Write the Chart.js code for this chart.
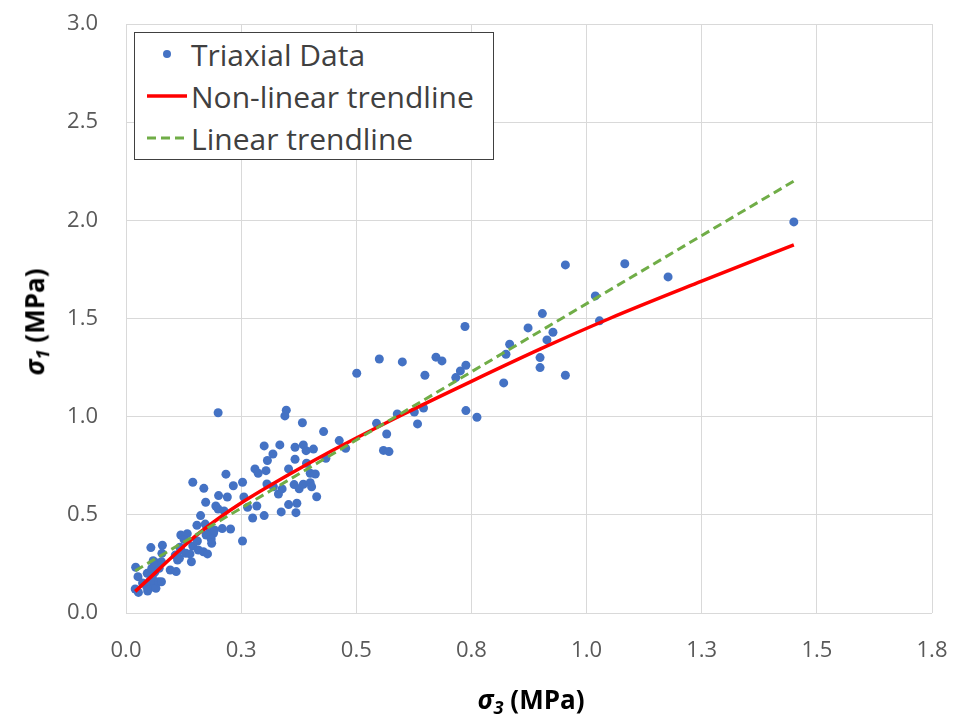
<!DOCTYPE html>
<html>
<head>
<meta charset="utf-8">
<script src="https://cdn.jsdelivr.net/npm/chart.js@4.4.1/dist/chart.umd.min.js"></script>
<style>
    body { margin: 0; background: #fff; }
    #wrap { position: relative; width: 953px; height: 720px; font-family: "Open Sans", sans-serif; }
    #chart { position: absolute; left: 0; top: 0; }
    .axis-title { position: absolute; font-weight: bold; font-size: 26px; color: #000; white-space: nowrap; }
    .axis-title i { font-style: italic; }
    .axis-title sub { font-size: 0.7em; font-style: italic; vertical-align: -0.25em; }
    #x-title { left: 531px; top: 700px; transform: translate(-50%, -50%); }
    #y-title { left: 35px; top: 322px; transform: translate(-50%, -50%) rotate(-90deg); }
    #legend { position: absolute; left: 134px; top: 32px; width: 360px; height: 128px; box-sizing: border-box;
              border: 1.5px solid #404040; background: #fff; }
    .leg-item { display: flex; align-items: center; height: 42px; font-size: 30px; color: #404040; }
    .leg-item svg { margin-left: 10px; margin-right: 2px; flex: none; }
</style>
</head>
<body>
<div id="wrap">
    <canvas id="chart" width="953" height="720"></canvas>
    <div id="legend"></div>
    <div class="axis-title" id="x-title"><i>σ</i><sub>3</sub> (MPa)</div>
    <div class="axis-title" id="y-title"><i>σ</i><sub>1</sub> (MPa)</div>
</div>
<script>
// Triaxial test results (MPa)
const sigma3 = [
    0.020, 0.027, 0.021, 0.026, 0.036, 0.045, 0.047, 0.046, 0.054, 0.052,
    0.059, 0.063, 0.056, 0.061, 0.065, 0.059, 0.071, 0.077, 0.072, 0.059,
    0.065, 0.077, 0.054, 0.079, 0.078, 0.096, 0.109, 0.107, 0.112, 0.119,
    0.117, 0.116, 0.130, 0.119, 0.133, 0.126, 0.142, 0.145, 0.139, 0.155,
    0.157, 0.168, 0.177, 0.145, 0.169, 0.162, 0.154, 0.172, 0.173, 0.182,
    0.190, 0.174, 0.185, 0.186, 0.192, 0.200, 0.195, 0.201, 0.200, 0.213,
    0.209, 0.227, 0.217, 0.220, 0.233, 0.253, 0.256, 0.253, 0.264, 0.275,
    0.284, 0.280, 0.287, 0.300, 0.304, 0.300, 0.307, 0.306, 0.320, 0.319,
    0.331, 0.339, 0.337, 0.334, 0.348, 0.345, 0.353, 0.353, 0.367, 0.367,
    0.365, 0.371, 0.369, 0.376, 0.385, 0.391, 0.407, 0.385, 0.400, 0.403,
    0.414, 0.392, 0.400, 0.411, 0.383, 0.429, 0.463, 0.477, 0.434, 0.501,
    0.550, 0.600, 0.649, 0.673, 0.686, 0.716, 0.726, 0.738, 0.736, 0.544,
    0.566, 0.559, 0.571, 0.589, 0.626, 0.646, 0.633, 0.738, 0.762, 0.820,
    0.825, 0.833, 0.873, 0.899, 0.899, 0.904, 0.914, 0.927, 0.954, 1.028,
    1.019, 0.954, 1.083, 1.177, 1.450
];
const sigma1 = [
    0.122, 0.105, 0.233, 0.185, 0.153, 0.134, 0.112, 0.202, 0.151, 0.163,
    0.199, 0.210, 0.228, 0.131, 0.126, 0.168, 0.159, 0.159, 0.228, 0.266,
    0.256, 0.261, 0.333, 0.345, 0.304, 0.219, 0.211, 0.295, 0.270, 0.321,
    0.335, 0.279, 0.304, 0.397, 0.404, 0.375, 0.261, 0.341, 0.301, 0.367,
    0.321, 0.312, 0.301, 0.666, 0.635, 0.496, 0.447, 0.453, 0.564, 0.426,
    0.406, 0.397, 0.377, 0.355, 0.423, 1.020, 0.545, 0.598, 0.530, 0.520,
    0.430, 0.428, 0.707, 0.591, 0.648, 0.666, 0.591, 0.367, 0.538, 0.484,
    0.545, 0.734, 0.712, 0.496, 0.725, 0.851, 0.777, 0.657, 0.643, 0.810,
    0.606, 0.632, 0.515, 0.856, 1.033, 1.004, 0.734, 0.552, 0.844, 0.783,
    0.654, 0.559, 0.511, 0.633, 0.856, 0.827, 0.835, 0.656, 0.664, 0.643,
    0.592, 0.763, 0.712, 0.708, 0.969, 0.924, 0.878, 0.839, 0.788, 1.221,
    1.294, 1.279, 1.211, 1.303, 1.284, 1.199, 1.233, 1.262, 1.459, 0.966,
    0.912, 0.828, 0.822, 1.014, 1.024, 1.044, 0.963, 1.031, 0.997, 1.172,
    1.318, 1.369, 1.452, 1.301, 1.250, 1.525, 1.391, 1.430, 1.211, 1.488,
    1.615, 1.773, 1.779, 1.712, 1.992
];

// Trendlines
const nonLinearX = [0.02, 0.05, 0.10, 0.15, 0.20, 0.25, 0.35, 0.45, 0.60, 0.75, 0.90, 1.05, 1.25, 1.45];
const nonLinearY = [0.11, 0.175, 0.285, 0.39, 0.48, 0.56, 0.70, 0.83, 1.01, 1.18, 1.345, 1.50, 1.69, 1.875];
const linearX = [0.02, 1.45];
const linearY = [0.215, 2.20];

const xTickLabels = ['0.0', '0.3', '0.5', '0.8', '1.0', '1.3', '1.5', '1.8'];
const yTickLabels = ['0.0', '0.5', '1.0', '1.5', '2.0', '2.5', '3.0'];

const toPoints = (xs, ys) => xs.map((x, i) => ({ x: x, y: ys[i] }));

const tickFont = { family: '"Open Sans", sans-serif', size: 22 };
const gridColor = '#d9d9d9';

// keep the plot area where the reference has it
function noScalePadding(s) {
    s.paddingTop = 0;
    s.paddingBottom = 0;
    s.paddingLeft = 0;
    s.paddingRight = 0;
}

const datasets = [
    {
        label: 'Triaxial Data',
        data: toPoints(sigma3, sigma1),
        backgroundColor: '#4472C4',
        borderWidth: 0,
        pointRadius: 4.5,
        order: 2,
    },
    {
        label: 'Non-linear trendline',
        data: toPoints(nonLinearX, nonLinearY),
        showLine: true,
        borderColor: '#FF0000',
        borderWidth: 3.5,
        pointRadius: 0,
        cubicInterpolationMode: 'monotone',
        order: 1,
    },
    {
        label: 'Linear trendline',
        data: toPoints(linearX, linearY),
        showLine: true,
        borderColor: '#70AD47',
        borderWidth: 3,
        borderDash: [9, 5],
        pointRadius: 0,
        order: 0,
    }
];

new Chart(document.getElementById('chart'), {
    type: 'scatter',
    data: { datasets: datasets },
    options: {
        responsive: false,
        animation: false,
        layout: { padding: { top: 24, right: 21, left: 0, bottom: 0 } },
        plugins: { legend: { display: false }, tooltip: { enabled: false } },
        scales: {
            x: {
                type: 'linear',
                min: 0, max: 1.75,
                afterFit: s => { s.height = 107; noScalePadding(s); },
                grid: { color: gridColor, drawTicks: false },
                border: { display: false },
                ticks: {
                    stepSize: 0.25,
                    padding: 25,
                    color: '#595959',
                    font: tickFont,
                    maxRotation: 0,
                    callback: v => xTickLabels[Math.round(v / 0.25)]
                }
            },
            y: {
                type: 'linear',
                min: 0, max: 3,
                afterFit: s => { s.width = 126; noScalePadding(s); },
                grid: { color: gridColor, drawTicks: false },
                border: { display: false },
                ticks: {
                    stepSize: 0.5,
                    padding: 28,
                    color: '#595959',
                    font: tickFont,
                    callback: v => yTickLabels[Math.round(v / 0.5)]
                }
            }
        }
    }
});

// Legend box inside the plot area
function legendMarker(ds) {
    if (ds.label === 'Triaxial Data') {
        return `<svg width="44" height="20"><circle cx="22" cy="10" r="4" fill="${ds.backgroundColor}"/></svg>`;
    }
    const dash = ds.borderDash ? `stroke-dasharray="${ds.borderDash.join(' ')}"` : '';
    return `<svg width="44" height="20"><line x1="2" y1="10" x2="42" y2="10" stroke="${ds.borderColor}" stroke-width="${ds.borderWidth}" ${dash}/></svg>`;
}
document.getElementById('legend').innerHTML = datasets.map(ds => `
    <div class="leg-item">${legendMarker(ds)}<span>${ds.label}</span></div>
`).join('');
</script>
</body>
</html>
